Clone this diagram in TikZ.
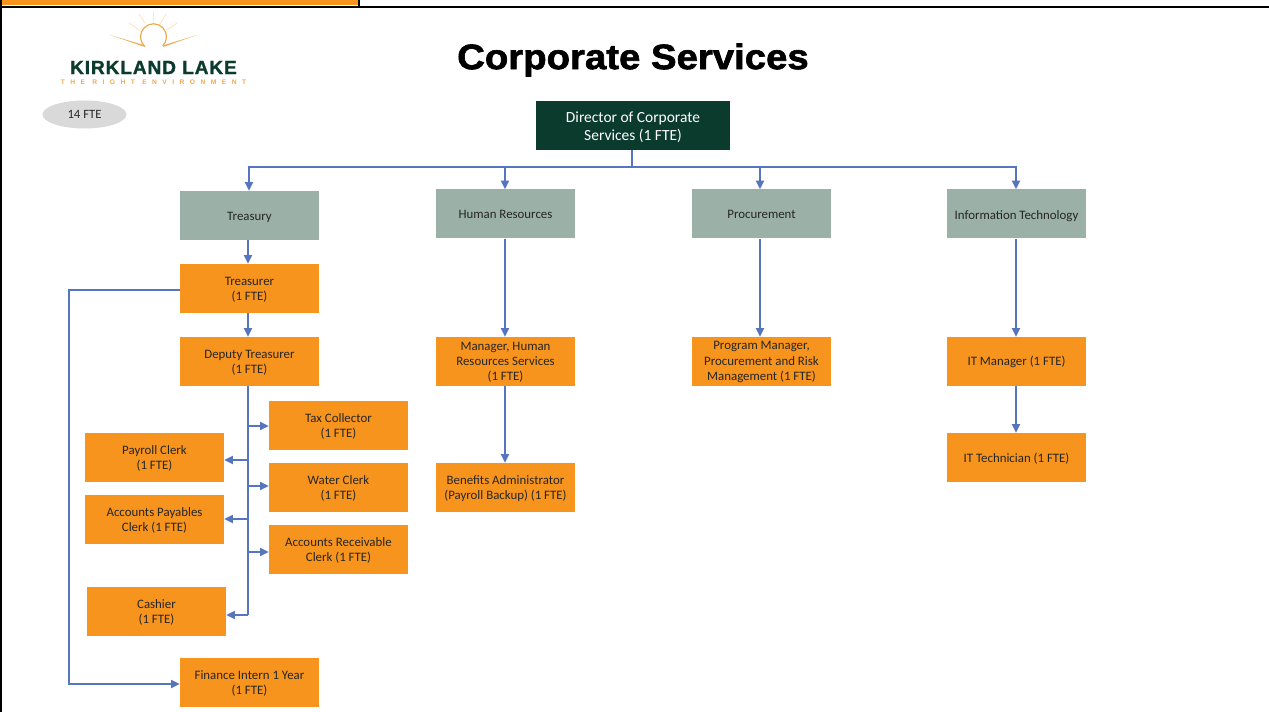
\documentclass[tikz,border=0pt]{standalone}
\usepackage{fontspec}
\setmainfont{Carlito}
\newfontfamily\titleheavy[FakeStretch=1.085,FakeBold=1.8]{Liberation Sans Bold}
\newfontfamily\logoheavy[FakeBold=1.2,LetterSpace=4.2]{Liberation Sans Bold}
\newfontfamily\logotagfont[LetterSpace=82]{Liberation Sans Bold}
\usetikzlibrary{arrows.meta,shapes.geometric}
\definecolor{boxorange}{HTML}{F7941D}
\definecolor{boxgrey}{HTML}{9BB0A7}
\definecolor{darkgreen}{HTML}{0B3B2C}
\definecolor{linkblue}{HTML}{5575BE}
\definecolor{sunorange}{HTML}{EDAB4F}
\tikzset{
  x=0.75pt,y=-0.75pt,
  base/.style={rectangle,minimum width=104.25pt,minimum height=36.75pt,inner sep=0pt,align=center,font=\fontsize{9.65}{11.4}\selectfont,text=black!85},
  role/.style={base,fill=boxorange},
  one/.style={execute at begin node={\rule{0pt}{9.2pt}}},
  two/.style={execute at begin node={\rule{0pt}{20pt}}},
  three/.style={execute at begin node={\rule{0pt}{29.8pt}}},
  dept/.style={base,fill=boxgrey},
  link/.style={draw=linkblue,line width=1.4pt},
  arrow/.style={link,-{Triangle[length=6.5pt,width=6pt]}},
  ray/.style={line width=0.7pt,line cap=round},
}
\begin{document}
\begin{tikzpicture}
\useasboundingbox (0,0) rectangle (1269,712);
\fill[white] (0,0) rectangle (1269,712);
% frame
\fill[boxorange] (0,0) rectangle (358,5.5);
\fill[black] (0,6) rectangle (1269,8);
\fill[black] (358,0) rectangle (360,7);
\fill[black] (0,0) rectangle (2,712);
% logo
\draw[sunorange,line width=0.9pt] (144.3,46) arc[start angle=135,end angle=405,radius=13];
\fill[sunorange] (145,47) -- (110,35) -- (145,45.4) -- cycle;
\fill[sunorange] (163,47) -- (197,35) -- (163,45.4) -- cycle;
\draw[ray,sunorange!30] (145,23) -- (139,14);
\draw[ray,sunorange!30] (139,30) -- (129,23);
\draw[ray,magenta!12] (153,21) -- (153,11);
\draw[ray,sunorange!30] (160,24) -- (166,14);
\draw[ray,sunorange!30] (167,30) -- (177,23);
\node[inner sep=0pt,text=darkgreen,font=\logoheavy\fontsize{14.4}{16}\selectfont] (logoname) at (153.5,67.5) {KIRKLAND LAKE};
\node[inner sep=0pt,text=sunorange,font=\logotagfont\fontsize{5}{6}\selectfont] (logotag) at (153.5,82) {THE RIGHT ENVIRONMENT};
\node[ellipse,fill=black!15,minimum width=63pt,minimum height=21pt,inner sep=0pt,font=\fontsize{9.5}{11}\selectfont,text=black!85] (fte) at (84.5,114.5) {14 FTE};
\node[inner sep=0pt,font=\titleheavy\fontsize{26.5}{30}\selectfont,text=black] (title) at (633,60) {Corporate Services};
% boxes
\node[base,fill=darkgreen,text=white,minimum width=145.5pt,font=\fontsize{11.6}{13.5}\selectfont,execute at begin node={\rule{0pt}{23.6pt}}] (dir) at (633,125.5) {Director of Corporate\\Services (1 FTE)};
\node[dept,one] (treasury) at (249.5,215.5) {Treasury};
\node[dept] (hr) at (505.5,214) {Human Resources};
\node[dept] (proc) at (761.5,214) {Procurement};
\node[dept,one] (it) at (1016.5,214) {Information Technology};
\node[role,two] (treasurer) at (249.5,288.5) {Treasurer\\(1 FTE)};
\node[role,two] (deputy) at (249.5,361.5) {Deputy Treasurer\\(1 FTE)};
\node[role,two] (tax) at (338.5,425.5) {Tax Collector\\(1 FTE)};
\node[role,two] (payroll) at (154.5,457.5) {Payroll Clerk\\(1 FTE)};
\node[role,two] (water) at (338.5,487.5) {Water Clerk\\(1 FTE)};
\node[role,two] (ap) at (154.5,519.5) {Accounts Payables\\Clerk (1 FTE)};
\node[role,two] (ar) at (338.5,549.5) {Accounts Receivable\\Clerk (1 FTE)};
\node[role,two] (cashier) at (156.5,611.5) {Cashier\\(1 FTE)};
\node[role,two] (intern) at (249.5,682.5) {Finance Intern 1 Year\\(1 FTE)};
\node[role,three] (mgrhr) at (505.5,361.5) {Manager, Human\\Resources Services\\(1 FTE)};
\node[role,two] (benefits) at (505.5,487.5) {Benefits Administrator\\(Payroll Backup) (1 FTE)};
\node[role,three] (pm) at (761.5,361.5) {Program Manager,\\Procurement and Risk\\Management (1 FTE)};
\node[role] (itm) at (1016.5,361.5) {IT Manager (1 FTE)};
\node[role,one] (itt) at (1016.5,457.5) {IT Technician (1 FTE)};
% connector joints
\coordinate (bus) at (632,167);
\coordinate (xtreas) at (249,167);
\coordinate (xhr) at (505,167);
\coordinate (xproc) at (760,167);
\coordinate (xit) at (1016,167);
\coordinate (trunktop) at (248,386);
\coordinate (trunkend) at (248,615);
\coordinate (jtax) at (248,426);
\coordinate (jpay) at (248,460);
\coordinate (jwat) at (248,486);
\coordinate (jap) at (248,519);
\coordinate (jar) at (248,552);
\coordinate (jintern) at (69,684);
\coordinate (jtreas) at (69,290);
% connectors
\draw[link] (bus |- dir.south) -- (bus);
\draw[arrow] (bus) -| (xtreas |- treasury.north);
\draw[arrow] (bus) -| (xhr |- hr.north);
\draw[arrow] (bus) -| (xproc |- proc.north);
\draw[arrow] (bus) -| (xit |- it.north);
\draw[arrow] (trunktop |- treasury.south) -- (trunktop |- treasurer.north);
\draw[arrow] (trunktop |- treasurer.south) -- (trunktop |- deputy.north);
\draw[link] (trunktop) -- (trunkend);
\draw[arrow] (jtax) -- (jtax -| tax.west);
\draw[arrow] (jpay) -- (jpay -| payroll.east);
\draw[arrow] (jwat) -- (jwat -| water.west);
\draw[arrow] (jap) -- (jap -| ap.east);
\draw[arrow] (jar) -- (jar -| ar.west);
\draw[arrow] (trunkend) -- (trunkend -| cashier.east);
\draw[arrow] (jtreas -| treasurer.west) -- (jtreas) -- (jintern) -- (jintern -| intern.west);
\draw[arrow] (xhr |- hr.south) -- (xhr |- mgrhr.north);
\draw[arrow] (xhr |- mgrhr.south) -- (xhr |- benefits.north);
\draw[arrow] (xproc |- proc.south) -- (xproc |- pm.north);
\draw[arrow] (xit |- it.south) -- (xit |- itm.north);
\draw[arrow] (xit |- itm.south) -- (xit |- itt.north);
\end{tikzpicture}
\end{document}
